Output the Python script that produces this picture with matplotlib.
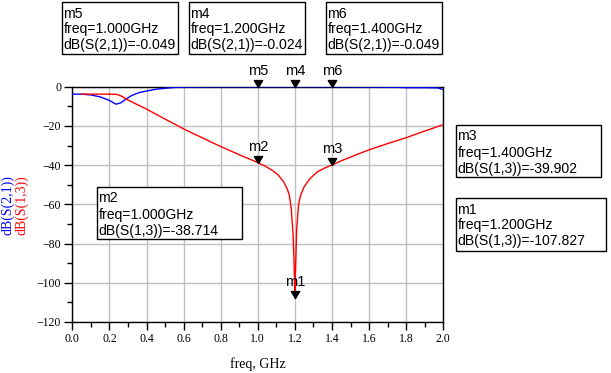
import numpy as np
import matplotlib
matplotlib.use("Agg")
import matplotlib.pyplot as plt
from matplotlib.path import Path
from matplotlib.patches import Rectangle

# dB(S(2,1)) trace
f21 = [0.0, 0.05, 0.10, 0.15, 0.20, 0.235, 0.26, 0.29, 0.32, 0.36, 0.40, 0.45, 0.50,
       0.55, 0.60, 0.70, 0.80, 1.00, 1.20, 1.40, 1.60, 1.75, 1.80, 1.90, 1.97, 2.00]
s21 = [-3.8, -3.8, -4.2, -5.2, -7.0, -8.9, -8.3, -6.3, -4.5, -3.0, -2.2, -1.3, -0.8,
       -0.4, -0.2, -0.1, -0.05, -0.049, -0.024, -0.049, -0.15, -0.3, -0.5, -0.5, -0.6, -1.5]

# dB(S(1,3)) trace
f13 = [0.05, 0.10, 0.15, 0.20, 0.24, 0.27, 0.30, 0.35, 0.40, 0.45, 0.50, 0.55, 0.60,
       0.65, 0.70, 0.75, 0.80, 0.85, 0.90, 0.95, 1.00, 1.04, 1.08, 1.11, 1.14, 1.16,
       1.17, 1.18, 1.19, 1.195, 1.198, 1.20, 1.202, 1.205, 1.21, 1.22, 1.23, 1.25,
       1.28, 1.32, 1.36, 1.40, 1.45, 1.50, 1.55, 1.60, 1.65, 1.70, 1.75, 1.80, 1.85,
       1.90, 1.95, 2.00]
s13 = [-3.8, -3.8, -3.8, -3.8, -3.9, -5.0, -6.8, -9.1, -11.4, -14.0, -16.5, -19.0, -21.5,
       -23.8, -26.0, -28.3, -30.5, -32.6, -34.7, -36.7, -38.7, -40.5, -42.8, -45.0, -48.6, -52.5,
       -55.4, -62.0, -75.0, -88.0, -98.0, -107.8, -98.0, -88.0, -72.0, -60.0, -55.5, -51.0,
       -47.0, -43.5, -41.5, -39.9, -37.8, -35.9, -34.0, -32.2, -30.6, -29.0, -27.5, -26.0, -24.3,
       -22.6, -21.0, -19.3]

# markers: name, freq, trace, value
mk_name = ["m5", "m4", "m6", "m2", "m3", "m1"]
mk_freq = [1.0, 1.2, 1.4, 1.0, 1.4, 1.2]
mk_trace = ["dB(S(2,1))", "dB(S(2,1))", "dB(S(2,1))", "dB(S(1,3))", "dB(S(1,3))", "dB(S(1,3))"]
mk_val = [-0.049, -0.024, -0.049, -38.714, -39.902, -107.827]
# readout boxes in pixels from the top-left: left, top, width, height
mk_box = [(62, 2, 116, 52), (189, 2, 116, 52), (326, 2, 116, 52),
          (97, 187, 145, 52), (456, 125, 145, 52), (456, 198, 150, 53)]

W, H = 611, 373
fig = plt.figure(figsize=(W/100, H/100), dpi=100)
ax = fig.add_axes([72.3/W, 1-322/H, 371/W, 235.3/H])

ax.plot(f21, s21, color="#0000ff", lw=1.0, zorder=3)
ax.plot(f13, s13, color="#ff0000", lw=1.0, zorder=3)

ax.set_xlim(0, 2.0); ax.set_ylim(-120, 0)
ax.set_xticks(np.arange(0, 2.01, 0.2)); ax.set_xticks(np.arange(0.1, 2.0, 0.2), minor=True)
ax.set_yticks(np.arange(-120, 1, 20)); ax.set_yticks(np.arange(-110, 0, 20), minor=True)
ax.set_xticklabels([f"{v:.1f}" for v in np.arange(0, 2.01, 0.2)])
ax.grid(True, which="major", color="#c0c0c0", lw=1.0, zorder=0)
ax.tick_params(which="major", length=6, width=1, direction="out", labelsize=8.5, pad=2)
ax.tick_params(which="minor", length=3.5, width=1, direction="out")
for lab in ax.get_xticklabels() + ax.get_yticklabels():
    lab.set_family("Liberation Serif")
for sp in ax.spines.values():
    sp.set_color("black"); sp.set_linewidth(1.0)
ax.set_xlabel("freq, GHz", family="Liberation Serif", fontsize=10, labelpad=9)

fig.text(7.5/W, 1-205/H, "dB(S(2,1))", rotation=90, color="#0000ff",
         family="Liberation Serif", fontsize=10, ha="center", va="center")
fig.text(21.5/W, 1-205/H, "dB(S(1,3))", rotation=90, color="#ff0000",
         family="Liberation Serif", fontsize=10, ha="center", va="center")

# downward triangle with its tip on the data point
tri = Path([(-0.6, 1.0), (0.6, 1.0), (0.0, 0.0), (-0.6, 1.0)],
           [Path.MOVETO, Path.LINETO, Path.LINETO, Path.CLOSEPOLY])
for name, fx, tr, v, (bx, by, bw, bh) in zip(mk_name, mk_freq, mk_trace, mk_val, mk_box):
    ax.plot([fx], [v], marker=tri, ms=10, color="black", zorder=5, clip_on=False)
    ax.annotate(name, (fx, v), xytext=(0, 9), textcoords="offset pixels",
                ha="center", va="bottom", fontsize=10.5, family="Liberation Sans",
                zorder=6, annotation_clip=False)
    fig.patches.append(Rectangle((bx/W, 1-(by+bh)/H), bw/W, bh/H, transform=fig.transFigure,
                                 fc="white", ec="black", lw=1.0, zorder=7))
    for i, line in enumerate([name, f"freq={fx:.3f}GHz", f"{tr}={v:.3f}"]):
        fig.text((bx+1.5)/W, 1-(by+10+16*i)/H, line, ha="left", va="center_baseline",
                 fontsize=10.1, family="Liberation Sans", zorder=8)

fig.savefig("out.png", dpi=100)
